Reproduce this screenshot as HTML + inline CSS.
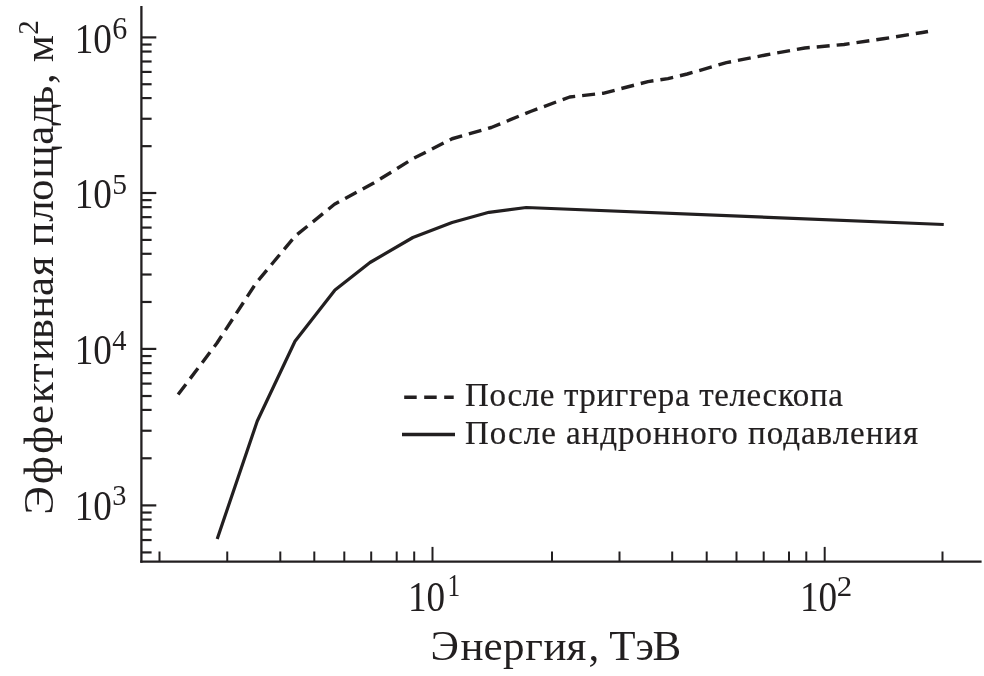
<!DOCTYPE html>
<html lang="ru"><head><meta charset="utf-8"><title>Эффективная площадь</title>
<style>
html,body{margin:0;padding:0;background:#fff;}
body{width:984px;height:676px;overflow:hidden;}
svg{display:block;}
text{font-family:"Liberation Serif","DejaVu Serif",serif;fill:#221f20;}
.t{font-size:43px;}
.k{font-size:42.5px;}
.s{font-size:30px;}
.l{font-size:33px;stroke:#221f20;stroke-width:0.2px;}
</style></head><body>
<svg width="984" height="676" viewBox="0 0 984 676">
<rect width="984" height="676" fill="#fff"/>
<g id="axes">
<line x1="141.4" y1="6" x2="141.4" y2="562.75" stroke="#221f20" stroke-width="2.3"/>
<line x1="140.25" y1="561.6" x2="981.6" y2="561.6" stroke="#221f20" stroke-width="2.3"/>
<line x1="141.4" y1="552.42" x2="151.6" y2="552.42" stroke="#221f20" stroke-width="2.2"/>
<line x1="141.4" y1="540.05" x2="151.6" y2="540.05" stroke="#221f20" stroke-width="2.2"/>
<line x1="141.4" y1="529.60" x2="151.6" y2="529.60" stroke="#221f20" stroke-width="2.2"/>
<line x1="141.4" y1="519.60" x2="151.6" y2="519.60" stroke="#221f20" stroke-width="2.2"/>
<line x1="141.4" y1="512.55" x2="151.6" y2="512.55" stroke="#221f20" stroke-width="2.2"/>
<line x1="141.4" y1="505.40" x2="156.3" y2="505.40" stroke="#221f20" stroke-width="2.2"/>
<line x1="141.4" y1="458.29" x2="151.6" y2="458.29" stroke="#221f20" stroke-width="2.2"/>
<line x1="141.4" y1="430.73" x2="151.6" y2="430.73" stroke="#221f20" stroke-width="2.2"/>
<line x1="141.4" y1="409.93" x2="151.6" y2="409.93" stroke="#221f20" stroke-width="2.2"/>
<line x1="141.4" y1="396.01" x2="151.6" y2="396.01" stroke="#221f20" stroke-width="2.2"/>
<line x1="141.4" y1="383.62" x2="151.6" y2="383.62" stroke="#221f20" stroke-width="2.2"/>
<line x1="141.4" y1="373.14" x2="151.6" y2="373.14" stroke="#221f20" stroke-width="2.2"/>
<line x1="141.4" y1="363.13" x2="151.6" y2="363.13" stroke="#221f20" stroke-width="2.2"/>
<line x1="141.4" y1="356.06" x2="151.6" y2="356.06" stroke="#221f20" stroke-width="2.2"/>
<line x1="141.4" y1="348.90" x2="156.3" y2="348.90" stroke="#221f20" stroke-width="2.2"/>
<line x1="141.4" y1="301.97" x2="151.6" y2="301.97" stroke="#221f20" stroke-width="2.2"/>
<line x1="141.4" y1="274.52" x2="151.6" y2="274.52" stroke="#221f20" stroke-width="2.2"/>
<line x1="141.4" y1="253.79" x2="151.6" y2="253.79" stroke="#221f20" stroke-width="2.2"/>
<line x1="141.4" y1="239.93" x2="151.6" y2="239.93" stroke="#221f20" stroke-width="2.2"/>
<line x1="141.4" y1="227.59" x2="151.6" y2="227.59" stroke="#221f20" stroke-width="2.2"/>
<line x1="141.4" y1="217.15" x2="151.6" y2="217.15" stroke="#221f20" stroke-width="2.2"/>
<line x1="141.4" y1="207.17" x2="151.6" y2="207.17" stroke="#221f20" stroke-width="2.2"/>
<line x1="141.4" y1="200.13" x2="151.6" y2="200.13" stroke="#221f20" stroke-width="2.2"/>
<line x1="141.4" y1="193.00" x2="156.3" y2="193.00" stroke="#221f20" stroke-width="2.2"/>
<line x1="141.4" y1="146.16" x2="151.6" y2="146.16" stroke="#221f20" stroke-width="2.2"/>
<line x1="141.4" y1="118.76" x2="151.6" y2="118.76" stroke="#221f20" stroke-width="2.2"/>
<line x1="141.4" y1="98.07" x2="151.6" y2="98.07" stroke="#221f20" stroke-width="2.2"/>
<line x1="141.4" y1="84.24" x2="151.6" y2="84.24" stroke="#221f20" stroke-width="2.2"/>
<line x1="141.4" y1="71.92" x2="151.6" y2="71.92" stroke="#221f20" stroke-width="2.2"/>
<line x1="141.4" y1="61.50" x2="151.6" y2="61.50" stroke="#221f20" stroke-width="2.2"/>
<line x1="141.4" y1="51.55" x2="151.6" y2="51.55" stroke="#221f20" stroke-width="2.2"/>
<line x1="141.4" y1="44.52" x2="151.6" y2="44.52" stroke="#221f20" stroke-width="2.2"/>
<line x1="141.4" y1="37.40" x2="156.3" y2="37.40" stroke="#221f20" stroke-width="2.2"/>
<line x1="159.50" y1="551.5" x2="159.50" y2="561.6" stroke="#221f20" stroke-width="2"/>
<line x1="227.25" y1="551.5" x2="227.25" y2="561.6" stroke="#221f20" stroke-width="2"/>
<line x1="280.30" y1="551.5" x2="280.30" y2="561.6" stroke="#221f20" stroke-width="2"/>
<line x1="314.30" y1="551.5" x2="314.30" y2="561.6" stroke="#221f20" stroke-width="2"/>
<line x1="344.30" y1="551.5" x2="344.30" y2="561.6" stroke="#221f20" stroke-width="2"/>
<line x1="371.20" y1="551.5" x2="371.20" y2="561.6" stroke="#221f20" stroke-width="2"/>
<line x1="396.70" y1="551.5" x2="396.70" y2="561.6" stroke="#221f20" stroke-width="2"/>
<line x1="414.20" y1="551.5" x2="414.20" y2="561.6" stroke="#221f20" stroke-width="2"/>
<line x1="432.50" y1="546.9" x2="432.50" y2="561.6" stroke="#221f20" stroke-width="2"/>
<line x1="552.00" y1="551.5" x2="552.00" y2="561.6" stroke="#221f20" stroke-width="2"/>
<line x1="619.50" y1="551.5" x2="619.50" y2="561.6" stroke="#221f20" stroke-width="2"/>
<line x1="672.20" y1="551.5" x2="672.20" y2="561.6" stroke="#221f20" stroke-width="2"/>
<line x1="706.70" y1="551.5" x2="706.70" y2="561.6" stroke="#221f20" stroke-width="2"/>
<line x1="736.50" y1="551.5" x2="736.50" y2="561.6" stroke="#221f20" stroke-width="2"/>
<line x1="763.70" y1="551.5" x2="763.70" y2="561.6" stroke="#221f20" stroke-width="2"/>
<line x1="789.00" y1="551.5" x2="789.00" y2="561.6" stroke="#221f20" stroke-width="2"/>
<line x1="806.30" y1="551.5" x2="806.30" y2="561.6" stroke="#221f20" stroke-width="2"/>
<line x1="824.70" y1="546.9" x2="824.70" y2="561.6" stroke="#221f20" stroke-width="2"/>
<line x1="942.50" y1="551.5" x2="942.50" y2="561.6" stroke="#221f20" stroke-width="2"/>
</g>
<g id="ylabels">
<text class="k" transform="translate(111.9,52.9) scale(0.875,1)" text-anchor="end">10</text><text class="s" style="font-size:31px" transform="translate(112.2,38.8) scale(0.97,1)">6</text>
<text class="k" transform="translate(111.9,207.7) scale(0.875,1)" text-anchor="end">10</text><text class="s" style="font-size:30.5px" transform="translate(112.2,194.1) scale(0.97,1)">5</text>
<text class="k" transform="translate(111.9,364.4) scale(0.875,1)" text-anchor="end">10</text><text class="s" style="font-size:30px" transform="translate(112.2,349.8) scale(0.95,1)">4</text>
<text class="k" transform="translate(111.9,520.1) scale(0.875,1)" text-anchor="end">10</text><text class="s" style="font-size:30.5px" transform="translate(112.2,505.2) scale(0.93,1)">3</text>
</g>
<g id="xlabels">
<text class="k" transform="translate(408,610.8) scale(0.875,1)">10</text><text class="s" transform="translate(447.4,595.8) scale(0.82,1)" style="font-size:31px">1</text>
<text class="k" transform="translate(800,610.8) scale(0.875,1)">10</text><text class="s" transform="translate(836.8,595.8) scale(1.03,1)">2</text>
</g>
<text id="xl" class="t" x="430.4 460.5 483.6 503.1 525.3 543.4 566.5 588.6 599.4 609.3 635.4 652.4" y="660.2">Энергия, ТэВ</text>
<g transform="translate(52.9,515) rotate(-90)"><text id="yl" class="t" x="0.5 31.0 61.3 90.9 111.8 132.7 154.0 175.8 196.2 219.1 238.7 258.4 269.6 293.2 313.9 336.6 370.2 389.5 409.8 431.0 441.8 452.7" y="0">Эффективная площадь, м<tspan style="font-size:29px" x="480.2" dy="-15">2</tspan></text></g>
<polyline points="178.1,394.6 217,343 256.1,283 295.3,236 334.5,204.3 373.7,183 412.9,158.75 452.1,138.75 491.3,127.5 530.5,111.5 569.7,97 603,93.3 648,81.6 668,78.6 687.2,74 726.4,62.7 765.6,55 804.8,48 844,44.5 883.2,38.75 922.4,32.5 928,31.5" fill="none" stroke="#221f20" stroke-width="3.4" stroke-dasharray="13 7" stroke-linejoin="round"/>
<polyline points="217.2,538.9 257.2,421.3 295,341.25 335,290 370,262.5 412.9,237.5 452.1,222.5 489,212.3 526.25,207.5 943.75,224.5" fill="none" stroke="#221f20" stroke-width="3.2" stroke-linejoin="round"/>
<line x1="404.2" y1="397.3" x2="453.7" y2="397.3" stroke="#221f20" stroke-width="3.6" stroke-dasharray="12.5 7.5"/>
<line x1="402" y1="434.5" x2="455" y2="434.5" stroke="#221f20" stroke-width="3.6"/>
<text id="l1" class="l" x="465" y="406.2" letter-spacing="0.62">После триггера телескопа</text>
<text id="l2" class="l" x="465" y="443.8" letter-spacing="0.97">После андронного подавления</text>
</svg>
</body></html>
